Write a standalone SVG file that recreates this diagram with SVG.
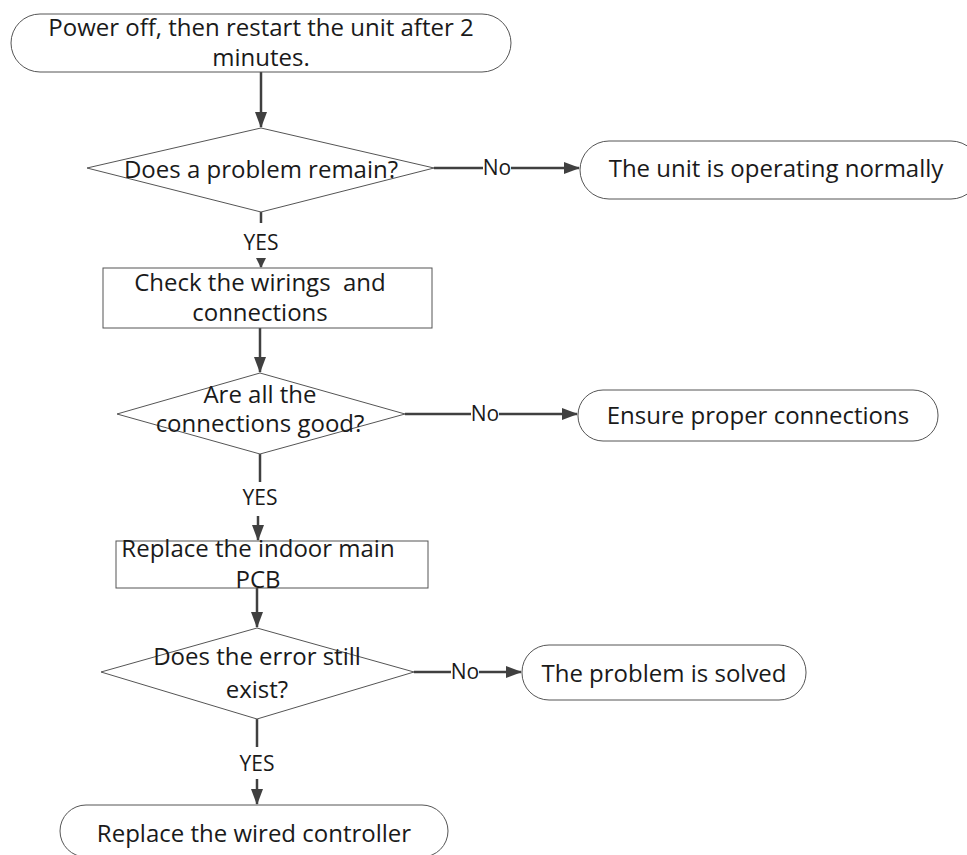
<svg xmlns="http://www.w3.org/2000/svg" width="967" height="855" viewBox="0 0 967 855">
<style>
.s{fill:#fff;stroke:#555;stroke-width:1}
.t{font-family:"Open Sans","DejaVu Sans",sans-serif;font-size:24px;fill:#1a1a1a;text-anchor:middle}
.c{stroke:#404040;stroke-width:2.5;fill:none}
.l{font-family:"Open Sans","DejaVu Sans",sans-serif;font-size:21px;fill:#1a1a1a;text-anchor:middle}
</style>
<defs>
<marker id="a" markerWidth="10" markerHeight="10" refX="9" refY="5" orient="auto" markerUnits="userSpaceOnUse" viewBox="0 0 10 10">
<path d="M0,0L10,5L0,10z" fill="#404040"/>
</marker>
<marker id="b" markerWidth="16" markerHeight="12" refX="15" refY="6" orient="auto" markerUnits="userSpaceOnUse" viewBox="0 0 16 12">
<path d="M0,0L16,6L0,12z" fill="#404040"/>
</marker>
</defs>
<rect width="967" height="855" fill="#fff"/>
<g id="connectors">
<line class="c" x1="261" y1="72" x2="261" y2="127" marker-end="url(#b)"/>
<line class="c" x1="434" y1="168" x2="483" y2="168"/>
<line class="c" x1="511" y1="168" x2="579" y2="168" marker-end="url(#b)"/>
<line class="c" x1="261" y1="212" x2="261" y2="223"/>
<line class="c" x1="261" y1="258" x2="261" y2="267" marker-end="url(#a)"/>
<line class="c" x1="260" y1="328" x2="260" y2="372" marker-end="url(#b)"/>
<line class="c" x1="405" y1="414" x2="471" y2="414"/>
<line class="c" x1="499" y1="414" x2="577" y2="414" marker-end="url(#b)"/>
<line class="c" x1="260" y1="454" x2="260" y2="482"/>
<line class="c" x1="258" y1="516" x2="258" y2="540" marker-end="url(#b)"/>
<line class="c" x1="257" y1="588" x2="257" y2="627" marker-end="url(#b)"/>
<line class="c" x1="414" y1="672" x2="451" y2="672"/>
<line class="c" x1="479" y1="672" x2="521" y2="672" marker-end="url(#b)"/>
<line class="c" x1="257" y1="719" x2="257" y2="747"/>
<line class="c" x1="257" y1="779" x2="257" y2="804" marker-end="url(#b)"/>
<text class="l" x="497" y="175">No</text>
<text class="l" x="261" y="250">YES</text>
<text class="l" x="485" y="421">No</text>
<text class="l" x="260" y="505">YES</text>
<text class="l" x="465" y="679">No</text>
<text class="l" x="257" y="771">YES</text>
</g>
<g id="n1">
<rect class="s" x="11" y="14" width="500" height="58" rx="29"/>
<text class="t" x="261" y="36">Power off, then restart the unit after 2</text>
<text class="t" x="261" y="66">minutes.</text>
</g>
<g id="n2">
<polygon class="s" points="261,128 434,168 261,212 87,168"/>
<text class="t" x="261" y="178">Does a problem remain?</text>
</g>
<g id="n3">
<rect class="s" x="580" y="141" width="400" height="58" rx="29"/>
<text class="t" x="776" y="177">The unit is operating normally</text>
</g>
<g id="n4">
<rect class="s" x="103" y="268" width="329" height="60"/>
<text class="t" x="260" y="291" xml:space="preserve">Check the wirings  and</text>
<text class="t" x="260" y="321">connections</text>
</g>
<g id="n5">
<polygon class="s" points="260,373 405,414 260,454 117,414"/>
<text class="t" x="260" y="403">Are all the</text>
<text class="t" x="260" y="432">connections good?</text>
</g>
<g id="n6">
<rect class="s" x="578" y="390" width="360" height="51" rx="25"/>
<text class="t" x="758" y="424">Ensure proper connections</text>
</g>
<g id="n7">
<rect class="s" x="116" y="541" width="312" height="47"/>
<text class="t" x="258" y="557">Replace the indoor main</text>
<text class="t" x="258" y="588">PCB</text>
</g>
<g id="n8">
<polygon class="s" points="257,628 414,672 257,719 101,672"/>
<text class="t" x="257" y="665">Does the error still</text>
<text class="t" x="257" y="698">exist?</text>
</g>
<g id="n9">
<rect class="s" x="522" y="645" width="284" height="55" rx="27"/>
<text class="t" x="664" y="682">The problem is solved</text>
</g>
<g id="n10">
<rect class="s" x="60" y="805" width="388" height="52" rx="26"/>
<text class="t" x="254" y="842">Replace the wired controller</text>
</g>
</svg>
